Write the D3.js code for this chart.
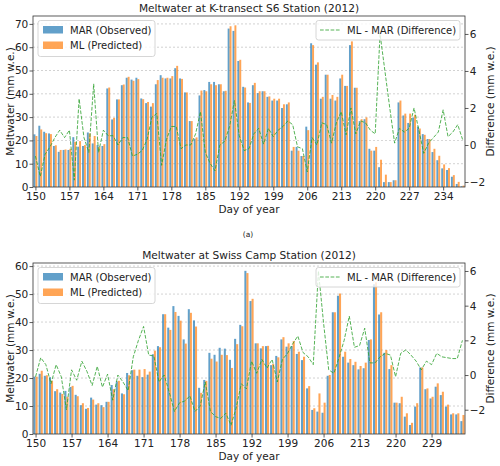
<!DOCTYPE html>
<html>
<head>
<meta charset="utf-8">
<script src="https://cdn.jsdelivr.net/npm/d3@7"></script>
<style>
  body { margin: 0; background: #fff; }
  text { font-family: "DejaVu Sans", sans-serif; fill: #222; }
</style>
</head>
<body>
<div id="chart"></div>
<script>
const width = 500;
const height = 466;

// K-transect S6 (2012)
const s6Days = [150,151,152,153,154,155,156,157,158,159,160,161,162,163,164,165,166,167,168,169,
  170,171,172,173,174,175,176,177,178,179,180,181,182,183,184,185,186,187,188,189,
  190,191,192,193,194,195,196,197,198,199,200,201,202,203,204,205,206,207,208,209,
  210,211,212,213,214,215,216,217,218,219,220,221,222,223,224,225,226,227,228,229,
  230,231,232,233,234,235,236,237,238];
const s6Mar = [22.6,26.3,23.7,23.0,17.6,15.1,15.9,15.9,21.4,17.3,
  17.6,23.4,18.7,18.0,17.6,42.3,29.0,37.6,43.7,46.9,
  46.1,46.9,38.0,36.0,34.5,44.1,48.0,46.6,46.6,51.0,
  46.6,40.6,28.3,20.7,39.3,41.6,45.1,45.1,44.1,41.1,
  68.0,67.0,54.1,43.0,36.3,43.7,40.3,41.1,38.7,37.1,
  37.1,33.9,35.5,15.6,17.2,13.3,25.9,61.7,52.5,37.9,
  48.2,37.9,37.1,46.6,43.4,60.9,42.6,28.3,29.1,16.4,
  15.6,8.5,2.1,2.1,2.9,36.3,30.7,27.5,29.8,25.9,
  22.7,20.6,15.0,11.5,8.0,7.3,4.4,1.3,0.3];
const s6Ml = [21.9,24.7,23.1,22.7,17.9,15.9,16.1,16.4,19.4,19.7,
  18.0,23.0,21.9,17.3,18.4,42.7,29.7,37.6,44.0,47.3,
  45.6,46.3,37.7,36.5,36.0,45.9,46.9,46.9,47.6,52.0,
  46.4,40.6,28.3,21.3,41.4,41.1,44.1,43.7,44.1,41.3,
  69.0,69.4,54.6,42.7,36.1,44.7,41.1,41.1,38.9,37.9,
  37.9,35.5,36.3,17.2,15.6,13.3,24.4,60.9,53.5,38.7,
  48.2,39.5,38.7,48.2,43.4,62.5,42.6,29.1,29.9,15.6,
  17.2,11.7,5.3,2.1,2.9,37.1,31.5,31.5,31.0,25.1,
  22.4,20.6,16.4,13.4,9.7,8.1,5.1,2.2,0.6];
const s6Diff = [-0.6,-1.7,-0.5,-0.1,0.4,0.8,0.4,0.8,-1.9,2.5,
  0.4,-0.4,3.3,-0.4,0.8,0.5,0.5,0.0,0.4,0.4,
  -0.6,-0.5,-0.3,0.3,1.5,1.7,-1.1,0.3,1.0,1.0,
  -0.2,0.0,0.0,0.6,1.8,-0.4,-1.0,-1.4,0.0,0.2,
  1.0,2.4,0.5,-0.3,-0.2,0.6,0.9,0.05,0.9,0.45,
  0.8,1.0,1.3,1.1,-0.1,-0.2,-1.45,0.4,0.0,1.2,
  1.1,0.1,1.2,1.8,0.55,2.0,0.6,1.3,1.2,0.8,
  0.6,6.0,4.0,2.0,0.1,0.9,0.7,0.9,2.0,0.8,
  -0.45,0.1,0.4,0.7,1.9,0.45,0.7,1.1,0.3];
const s6Ticks = [150,157,164,171,178,185,192,199,206,213,220,227,234];

// Swiss Camp (2012)
const scDays = [150,151,152,153,154,155,156,157,158,159,160,161,162,163,164,165,166,167,168,169,
  170,171,172,173,174,175,176,177,178,179,180,181,182,183,184,185,186,187,188,189,
  190,191,192,193,194,195,196,197,198,199,200,201,202,203,204,205,206,207,208,209,
  210,211,212,213,214,215,216,217,218,219,220,221,222,223,224,226,227,229,230,231,
  232,233,234,235];
const scMar = [20.5,21.5,20.8,20.3,15.3,14.8,15.4,16.8,14.0,10.3,
  9.0,13.0,10.5,10.3,11.5,17.5,18.8,14.5,21.8,22.8,
  20.8,20.3,21.2,28.5,31.4,42.8,38.0,45.7,42.2,33.8,
  44.6,40.6,16.5,19.3,29.0,28.3,30.8,30.5,26.5,34.0,
  39.0,58.3,47.5,32.4,30.6,31.4,24.6,27.9,33.8,31.2,
  31.4,28.6,26.4,16.3,8.6,8.0,7.6,20.8,43.5,49.4,
  27.6,25.5,24.6,23.1,23.5,33.6,53.5,42.7,29.0,23.2,
  11.2,11.0,6.2,3.2,9.8,23.8,16.0,12.7,16.9,13.9,
  9.8,7.0,7.0,4.6];
const scMl = [20.5,22.6,21.0,19.0,16.0,14.3,13.3,17.2,13.5,11.0,
  9.3,12.3,11.0,9.6,11.5,16.0,19.0,14.2,21.0,23.0,
  23.0,23.2,22.3,29.8,31.0,42.8,37.2,43.6,40.5,32.3,
  43.3,38.4,14.7,19.0,26.9,25.9,28.3,28.2,23.6,32.1,
  38.5,57.5,48.3,32.4,31.4,31.5,25.0,27.4,34.6,32.4,
  33.2,29.4,27.6,17.1,9.2,14.5,11.2,21.1,43.5,50.2,
  29.4,26.8,25.8,24.3,25.5,33.8,54.2,43.5,30.0,24.6,
  11.2,13.3,7.4,4.0,11.0,23.8,16.3,13.3,18.1,15.1,
  10.5,7.4,7.4,6.8];
const scDiff = [-0.1,1.0,0.6,-0.5,0.6,-0.1,-2.0,0.3,-0.3,0.8,
  0.2,-0.6,0.5,-0.7,0.05,-1.45,0.0,-0.4,-0.9,1.05,
  2.0,2.8,1.15,1.1,-0.4,0.0,-1.0,-2.1,-1.6,-1.5,
  -1.2,-2.1,-1.8,-0.4,-2.1,-2.4,-2.5,-2.2,-2.9,-1.9,
  -0.5,-0.8,0.8,0.1,0.9,0.4,0.9,-0.4,0.9,1.25,
  1.8,2.25,1.3,1.05,0.6,6.0,3.0,0.3,0.1,1.0,
  2.0,3.4,1.6,1.7,2.7,0.7,0.7,1.05,1.25,1.15,
  -0.1,1.25,1.45,1.15,0.8,0.3,0.8,0.6,1.25,1.05,
  1.0,0.95,0.95,2.0];
const scTicks = [150,157,164,171,178,185,192,199,206,213,220,229];

const rightTicks = [-2, 0, 2, 4, 6];

const blue = "#1f77b4";
const orange = "#ff7f0e";
const green = "#2ca02c";
const plotLeft = 33;
const plotRight = 465;
const fontSize = 10;
const tickFont = 10.5;
const titleFont = 10.6;

const svg = d3.select("#chart")
  .append("svg")
  .attr("width", width)
  .attr("height", height);

function styleAxis(g) {
  g.select(".domain").remove();
  g.selectAll(".tick line").attr("stroke", "#333").attr("stroke-width", 0.8);
  g.selectAll(".tick text")
    .style("font-family", "DejaVu Sans, sans-serif")
    .style("font-size", tickFont + "px")
    .attr("fill", "#222");
}

function drawPanel(p) {
  const n = p.days.length;
  const x = d3.scaleLinear().domain([-0.5, n - 0.5]).range([plotLeft, plotRight]);
  const y = d3.scaleLinear().domain([0, p.leftMax]).range([p.bottom, p.top]);
  const y2 = d3.scaleLinear().domain(p.rightDomain).range([p.bottom, p.top]);
  const g = svg.append("g");
  const idx = d3.range(n);
  const bw = x(0.4) - x(0);

  // grid lines (left axis)
  g.selectAll(".grid")
    .data(p.leftTicks.slice(1))
    .enter()
    .append("line")
    .attr("x1", plotLeft)
    .attr("x2", plotRight)
    .attr("y1", d => y(d))
    .attr("y2", d => y(d))
    .attr("stroke", "#b0b0b0")
    .attr("stroke-width", 0.8)
    .attr("stroke-dasharray", "2,2")
    .attr("opacity", 0.7);

  // bars
  g.selectAll(".mar")
    .data(idx)
    .enter()
    .append("rect")
    .attr("x", i => x(i - 0.4))
    .attr("y", i => y(p.mar[i]))
    .attr("width", bw)
    .attr("height", i => y(0) - y(p.mar[i]))
    .attr("fill", blue)
    .attr("fill-opacity", 0.7);

  g.selectAll(".ml")
    .data(idx)
    .enter()
    .append("rect")
    .attr("x", i => x(i))
    .attr("y", i => y(p.ml[i]))
    .attr("width", bw)
    .attr("height", i => y(0) - y(p.ml[i]))
    .attr("fill", orange)
    .attr("fill-opacity", 0.7);

  // left legend
  const lg = g.append("g").attr("transform", `translate(38,${p.top + 4.5})`);
  lg.append("rect")
    .attr("width", 117).attr("height", 36).attr("rx", 2.5)
    .attr("fill", "#fff").attr("fill-opacity", 0.8)
    .attr("stroke", "#ccc").attr("stroke-width", 0.8);
  [["MAR (Observed)", blue], ["ML (Predicted)", orange]].forEach((e, k) => {
    lg.append("rect")
      .attr("x", 5).attr("y", 5.5 + k * 15.5)
      .attr("width", 20).attr("height", 7.5)
      .attr("fill", e[1]).attr("fill-opacity", 0.7);
    lg.append("text")
      .attr("x", 32).attr("y", 13.3 + k * 15.5)
      .style("font-size", fontSize + "px")
      .text(e[0]);
  });

  // difference line
  const line = d3.line()
    .x((d, i) => x(i))
    .y(d => y2(d));
  g.append("path")
    .datum(p.diff)
    .attr("d", line)
    .attr("fill", "none")
    .attr("stroke", green)
    .attr("stroke-opacity", 0.8)
    .attr("stroke-width", 1)
    .attr("stroke-dasharray", "3.7,1.6");

  // right legend
  const rg = g.append("g").attr("transform", `translate(316,${p.top + 4.5})`);
  rg.append("rect")
    .attr("width", 144).attr("height", 19.5).attr("rx", 2.5)
    .attr("fill", "#fff").attr("fill-opacity", 0.8)
    .attr("stroke", "#ccc").attr("stroke-width", 0.8);
  rg.append("line")
    .attr("x1", 4).attr("x2", 24).attr("y1", 9.5).attr("y2", 9.5)
    .attr("stroke", green).attr("stroke-opacity", 0.8)
    .attr("stroke-width", 1).attr("stroke-dasharray", "3.7,1.6");
  rg.append("text")
    .attr("x", 31).attr("y", 13.3)
    .style("font-size", fontSize + "px")
    .text("ML - MAR (Difference)");

  // frame
  g.append("rect")
    .attr("x", plotLeft).attr("y", p.top)
    .attr("width", plotRight - plotLeft).attr("height", p.bottom - p.top)
    .attr("fill", "none").attr("stroke", "#333").attr("stroke-width", 0.8);

  // axes
  g.append("g")
    .attr("transform", `translate(0,${p.bottom})`)
    .call(d3.axisBottom(x)
      .tickValues(p.ticks.map(t => p.days.indexOf(t)))
      .tickFormat(i => p.days[i])
      .tickSize(3.5).tickPadding(2.3))
    .call(styleAxis);

  g.append("g")
    .attr("transform", `translate(${plotLeft},0)`)
    .call(d3.axisLeft(y).tickValues(p.leftTicks).tickSize(3.5).tickPadding(1.2))
    .call(styleAxis);

  g.append("g")
    .attr("transform", `translate(${plotRight},0)`)
    .call(d3.axisRight(y2).tickValues(rightTicks).tickSize(3.5).tickPadding(1.2))
    .call(styleAxis);

  // labels
  const cx = (plotLeft + plotRight) / 2;
  const cy = (p.top + p.bottom) / 2;
  g.append("text")
    .attr("x", cx).attr("y", p.top - 4)
    .attr("text-anchor", "middle")
    .style("font-size", titleFont + "px")
    .text(p.title);
  g.append("text")
    .attr("x", cx).attr("y", p.bottom + 26)
    .attr("text-anchor", "middle")
    .style("font-size", tickFont + "px")
    .text("Day of year");
  g.append("text")
    .attr("transform", `translate(14,${cy}) rotate(-90)`)
    .attr("text-anchor", "middle")
    .style("font-size", tickFont + "px")
    .text("Meltwater (mm w.e.)");
  g.append("text")
    .attr("transform", `translate(494,${cy}) rotate(-90)`)
    .attr("text-anchor", "middle")
    .style("font-size", tickFont + "px")
    .text("Difference (mm w.e.)");
}

drawPanel({
  title: "Meltwater at K-transect S6 Station (2012)",
  days: s6Days, mar: s6Mar, ml: s6Ml, diff: s6Diff, ticks: s6Ticks,
  top: 16, bottom: 187,
  leftMax: 73.4, leftTicks: [0, 10, 20, 30, 40, 50, 60, 70],
  rightDomain: [-2.27, 6.97]
});

svg.append("text")
  .attr("x", 248).attr("y", 237)
  .attr("text-anchor", "middle")
  .style("font-size", "7.5px")
  .text("(a)");

drawPanel({
  title: "Meltwater at Swiss Camp Station (2012)",
  days: scDays, mar: scMar, ml: scMl, diff: scDiff, ticks: scTicks,
  top: 263, bottom: 434,
  leftMax: 61.1, leftTicks: [0, 10, 20, 30, 40, 50, 60],
  rightDomain: [-3.4, 6.46]
});
</script>
</body>
</html>
